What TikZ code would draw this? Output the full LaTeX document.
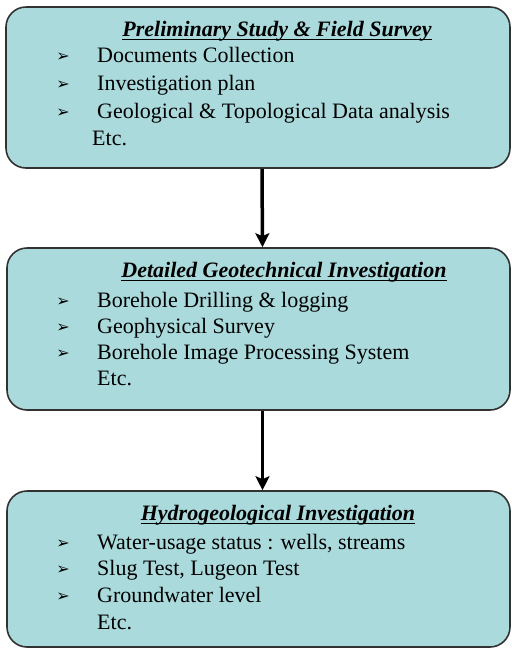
\documentclass[tikz,border=0pt]{standalone}
\usepackage{fontspec}
\setmainfont{Liberation Serif}
\newfontfamily\dejavu{DejaVu Sans}
\usetikzlibrary{arrows.meta}
\definecolor{boxfill}{RGB}{170,218,220}
\definecolor{boxline}{RGB}{50,50,50}
\newcommand\myul[1]{\setbox0\hbox{#1}\rlap{\raisebox{-4pt}{\rule{\wd0}{1.3pt}}}\box0}
\begin{document}
\begin{tikzpicture}[x=1pt,y=-1pt,
  stagebox/.style={draw=boxline,fill=boxfill,line width=1.6pt,rounded corners=20pt,inner sep=0pt},
  ttl/.style={anchor=base,inner sep=0pt,font=\fontsize{22}{26}\selectfont\bfseries\itshape},
  itm/.style={anchor=base west,inner sep=0pt,font=\fontsize{22}{26}\selectfont},
  blt/.style={anchor=base,inner sep=0pt,font=\fontsize{16}{18}\selectfont\dejavu},
  arr/.style={line width=3.5pt,-{Stealth[length=14pt,width=14pt,inset=3pt]}}]
\useasboundingbox (0,0) rectangle (512,649);
% boxes
\node[stagebox,minimum width=504pt,minimum height=161pt] (b1) at (258,87.5) {};
\node[stagebox,minimum width=503pt,minimum height=162pt] (b2) at (258.5,329) {};
\node[stagebox,minimum width=503pt,minimum height=156pt] (b3) at (258.5,569) {};
% box 1
\node[ttl] (t1) at (277,36) {\myul{Preliminary Study \& Field Survey}};
\node[blt] (p1) at (63,61) {➢};
\node[itm] (i1) at (97,62) {Documents Collection};
\node[blt] (p2) at (63,89) {➢};
\node[itm] (i2) at (97,90) {Investigation plan};
\node[blt] (p3) at (63,117) {➢};
\node[itm] (i3) at (97,118) {Geological \& Topological Data analysis};
\node[itm] (e1) at (92,145) {Etc.};
% box 2
\node[ttl] (t2) at (284,277) {\myul{Detailed Geotechnical Investigation}};
\node[blt] (q1) at (63,306) {➢};
\node[itm] (j1) at (97,307) {Borehole Drilling \& logging};
\node[blt] (q2) at (63,332) {➢};
\node[itm] (j2) at (97,333) {Geophysical Survey};
\node[blt] (q3) at (63,358) {➢};
\node[itm] (j3) at (97,359) {Borehole Image Processing System};
\node[itm] (e2) at (97,385) {Etc.};
% box 3
\node[ttl] (t3) at (278,520) {\myul{Hydrogeological Investigation}};
\node[blt] (r1) at (63,548) {➢};
\node[itm] (k1) at (97,549) {Water-usage status : wells, streams};
\node[blt] (r2) at (63,574) {➢};
\node[itm] (k2) at (97,575) {Slug Test, Lugeon Test};
\node[blt] (r3) at (63,601) {➢};
\node[itm] (k3) at (97,602) {Groundwater level};
\node[itm] (e3) at (97,629) {Etc.};
% arrows
\draw[arr] ([xshift=4pt]b1.south) -- ([xshift=4pt]b2.north);
\draw[arr] ([xshift=4pt]b2.south) -- ([xshift=4pt]b3.north);
\end{tikzpicture}
\end{document}
